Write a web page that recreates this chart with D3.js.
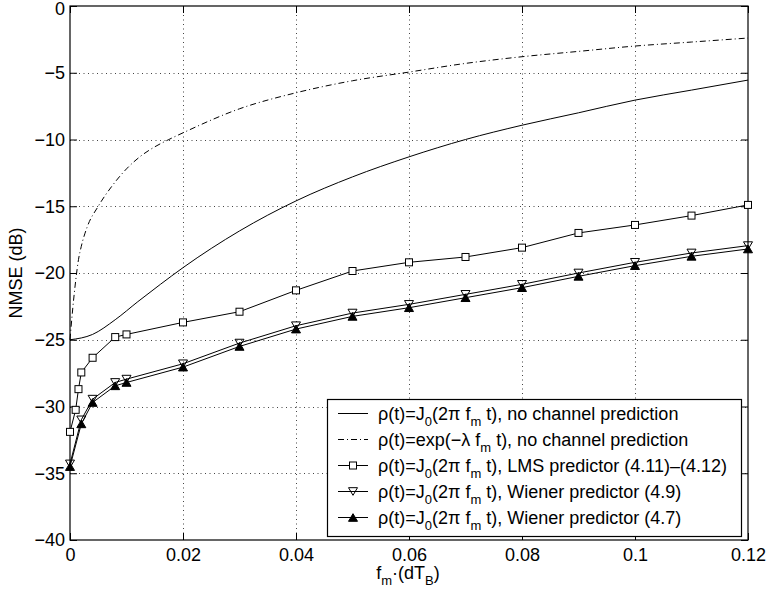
<!DOCTYPE html>
<html>
<head>
<meta charset="utf-8">
<script src="https://cdn.jsdelivr.net/npm/d3@7"></script>
<style>
  html, body { margin: 0; padding: 0; background: #fff; }
  svg { display: block; font-family: "Liberation Sans", Arial, Helvetica, sans-serif; }
</style>
</head>
<body>
<svg id="chart" width="768" height="596"></svg>
<script>
// ---- data ----
const xTicks = [0, 0.02, 0.04, 0.06, 0.08, 0.1, 0.12];
const xTickLabels = ["0", "0.02", "0.04", "0.06", "0.08", "0.1", "0.12"];
const yTicks = [0, -5, -10, -15, -20, -25, -30, -35, -40];
const yTickLabels = ["0", "\u22125", "\u221210", "\u221215", "\u221220", "\u221225", "\u221230", "\u221235", "\u221240"];

// J0 correlation, no channel prediction (solid)
const j0X = [0, 0.004, 0.008, 0.012, 0.016, 0.02, 0.03, 0.04, 0.05, 0.06, 0.07, 0.08, 0.09, 0.1, 0.11, 0.12];
const j0Y = [-25.0, -24.6, -23.5, -22.15, -20.85, -19.6, -16.85, -14.6, -12.8, -11.3, -10.0, -8.93, -8.0, -7.05, -6.3, -5.55];

// exp correlation, no channel prediction (dash-dot)
const expX = [0, 0.0005, 0.001, 0.0015, 0.002, 0.003, 0.005, 0.0075, 0.01, 0.0125, 0.015, 0.0175, 0.02, 0.03, 0.04, 0.05, 0.06, 0.07, 0.08, 0.09, 0.1, 0.11, 0.12];
const expY = [-25.0, -22.6, -20.6, -19.0, -18.0, -16.6, -15.0, -13.45, -12.2, -11.25, -10.55, -10.0, -9.5, -7.7, -6.5, -5.6, -4.95, -4.3, -3.8, -3.4, -3.0, -2.7, -2.4];

// LMS predictor (squares)
const lmsX = [0, 0.001, 0.0015, 0.002, 0.004, 0.008, 0.01, 0.02, 0.03, 0.04, 0.05, 0.06, 0.07, 0.08, 0.09, 0.1, 0.11, 0.12];
const lmsY = [-31.9, -30.25, -28.7, -27.45, -26.35, -24.8, -24.6, -23.7, -22.9, -21.3, -19.85, -19.2, -18.8, -18.1, -17.0, -16.4, -15.7, -14.9];

// Wiener predictors
const wienerX = [0, 0.002, 0.004, 0.008, 0.01, 0.02, 0.03, 0.04, 0.05, 0.06, 0.07, 0.08, 0.09, 0.1, 0.11, 0.12];
const wiener49Y = [-34.3, -31.0, -29.45, -28.2, -27.95, -26.8, -25.25, -23.95, -23.0, -22.35, -21.6, -20.85, -20.0, -19.2, -18.5, -17.95];
const wiener47Y = [-34.5, -31.3, -29.7, -28.45, -28.2, -27.05, -25.5, -24.2, -23.25, -22.6, -21.85, -21.1, -20.25, -19.45, -18.75, -18.2];

const legendEntries = [
  { pre: "\u03c1(t)=J", sub1: "0", mid: "(2\u03c0 f", sub2: "m", post: " t), no channel prediction", kind: "solid" },
  { pre: "\u03c1(t)=exp(\u2212\u03bb f", sub1: null, mid: "", sub2: "m", post: " t), no channel prediction", kind: "dashdot" },
  { pre: "\u03c1(t)=J", sub1: "0", mid: "(2\u03c0 f", sub2: "m", post: " t), LMS predictor (4.11)\u2013(4.12)", kind: "square" },
  { pre: "\u03c1(t)=J", sub1: "0", mid: "(2\u03c0 f", sub2: "m", post: " t), Wiener predictor (4.9)", kind: "down" },
  { pre: "\u03c1(t)=J", sub1: "0", mid: "(2\u03c0 f", sub2: "m", post: " t), Wiener predictor (4.7)", kind: "up" }
];

// ---- layout ----
const L = 70, R = 748, T = 6, B = 540;
const fs = 18, sfs = 13;
const svg = d3.select("#chart");
svg.append("rect").attr("width", 768).attr("height", 596).attr("fill", "#fff");

const x = d3.scaleLinear().domain([0, 0.12]).range([L, R]);
const y = d3.scaleLinear().domain([-40, 0]).range([B, T]);

// grid
const grid = svg.append("g").attr("stroke", "#444").attr("stroke-width", 1).attr("stroke-dasharray", "1,3.5");
grid.selectAll("line.gx").data(xTicks.slice(1, -1)).enter().append("line")
  .attr("x1", d => Math.round(x(d)) + 0.5).attr("x2", d => Math.round(x(d)) + 0.5)
  .attr("y1", T).attr("y2", B);
grid.selectAll("line.gy").data(yTicks.slice(1, -1)).enter().append("line")
  .attr("y1", d => Math.round(y(d)) + 0.5).attr("y2", d => Math.round(y(d)) + 0.5)
  .attr("x1", L).attr("x2", R);

// axes
const xAxis = d3.axisBottom(x).tickValues(xTicks).tickSizeInner(-7).tickSizeOuter(0).tickPadding(8)
  .tickFormat((d, i) => xTickLabels[i]);
const yAxis = d3.axisLeft(y).tickValues(yTicks).tickSizeInner(-7).tickSizeOuter(0).tickPadding(5)
  .tickFormat((d, i) => yTickLabels[i]);
const xTop = d3.axisTop(x).tickValues(xTicks).tickSizeInner(-7).tickSizeOuter(0).tickFormat("");
const yRight = d3.axisRight(y).tickValues(yTicks).tickSizeInner(-7).tickSizeOuter(0).tickFormat("");

function styleAxis(g) {
  g.selectAll("path").remove();
  g.selectAll("line").attr("stroke", "#000");
  g.selectAll("text").attr("fill", "#000").style("font-size", fs + "px").style("font-family", "Liberation Sans, Arial, sans-serif");
}
svg.append("g").attr("transform", `translate(0,${B})`).call(xAxis).call(styleAxis);
const yg = svg.append("g").attr("transform", `translate(${L},0)`).call(yAxis).call(styleAxis);
// keep the top "0" label inside the picture
yg.selectAll(".tick text").filter(d => d === 0).attr("dy", "0.75em").attr("y", -5);

svg.append("g").attr("transform", `translate(0,${T})`).call(xTop).call(styleAxis);
svg.append("g").attr("transform", `translate(${R},0)`).call(yRight).call(styleAxis);

// box
svg.append("rect").attr("x", L).attr("y", T).attr("width", R - L).attr("height", B - T)
  .attr("fill", "none").attr("stroke", "#000").attr("stroke-width", 1.2);

// lines
const line = d3.line().x(d => x(d[0])).y(d => y(d[1]));
const smooth = d3.line().x(d => x(d[0])).y(d => y(d[1])).curve(d3.curveMonotoneX);
function drawLine(xs, ys, gen, dash) {
  svg.append("path").datum(d3.zip(xs, ys)).attr("d", gen)
    .attr("fill", "none").attr("stroke", "#000").attr("stroke-width", 1)
    .attr("stroke-dasharray", dash || null);
}
drawLine(j0X, j0Y, smooth);
drawLine(expX, expY, smooth, "6,3,1,3");
drawLine(lmsX, lmsY, line);
drawLine(wienerX, wiener49Y, line);
drawLine(wienerX, wiener47Y, line);

// markers
const sq = 7, tr = 9;
function marker(g, kind, cx, cy) {
  if (kind === "square") {
    g.append("rect").attr("x", cx - sq / 2).attr("y", cy - sq / 2).attr("width", sq).attr("height", sq)
      .attr("fill", "#fff").attr("stroke", "#000").attr("stroke-width", 1);
  } else if (kind === "down") {
    const h = tr * 0.85;
    g.append("path").attr("d", `M${cx - tr / 2},${cy - h / 2}L${cx + tr / 2},${cy - h / 2}L${cx},${cy + h / 2}Z`)
      .attr("fill", "none").attr("stroke", "#000").attr("stroke-width", 1);
  } else if (kind === "up") {
    const h = tr * 0.85;
    g.append("path").attr("d", `M${cx - tr / 2},${cy + h / 2}L${cx + tr / 2},${cy + h / 2}L${cx},${cy - h / 2}Z`)
      .attr("fill", "#000").attr("stroke", "#000").attr("stroke-width", 1);
  }
}
const mg = svg.append("g");
d3.zip(lmsX, lmsY).forEach(d => marker(mg, "square", x(d[0]), y(d[1])));
d3.zip(wienerX, wiener49Y).forEach(d => marker(mg, "down", x(d[0]), y(d[1])));
d3.zip(wienerX, wiener47Y).forEach(d => marker(mg, "up", x(d[0]), y(d[1])));

// axis labels
const xl = svg.append("text").attr("x", 408).attr("y", 579).attr("text-anchor", "middle")
  .style("font-size", fs + "px").attr("fill", "#000");
xl.append("tspan").text("f");
xl.append("tspan").text("m").style("font-size", sfs + "px").attr("dy", 6);
xl.append("tspan").text("\u00b7(dT").attr("dy", -6);
xl.append("tspan").text("B").style("font-size", sfs + "px").attr("dy", 6);
xl.append("tspan").text(")").attr("dy", -6);

svg.append("text").attr("transform", `translate(22,${(T + B) / 2}) rotate(-90)`)
  .attr("text-anchor", "middle").style("font-size", fs + "px").attr("fill", "#000").text("NMSE (dB)");

// legend
const lg = svg.append("g");
lg.append("rect").attr("x", 327.5).attr("y", 399.5).attr("width", 414).attr("height", 137)
  .attr("fill", "#fff").attr("stroke", "#000").attr("stroke-width", 1.2);
legendEntries.forEach((e, i) => {
  const ly = 413.5 + i * 26;
  lg.append("line").attr("x1", 338).attr("x2", 368).attr("y1", ly).attr("y2", ly)
    .attr("stroke", "#000").attr("stroke-width", 1)
    .attr("stroke-dasharray", e.kind === "dashdot" ? "6,3,1,3" : null);
  marker(lg, e.kind, 353, ly);
  const t = lg.append("text").attr("x", 378).attr("y", ly + 6).style("font-size", fs + "px").attr("fill", "#000");
  t.append("tspan").text(e.pre);
  if (e.sub1) {
    t.append("tspan").text(e.sub1).style("font-size", sfs + "px").attr("dy", 6);
    t.append("tspan").text(e.mid).attr("dy", -6);
  }
  t.append("tspan").text(e.sub2).style("font-size", sfs + "px").attr("dy", 6);
  t.append("tspan").text(e.post).attr("dy", -6);
});
</script>
</body>
</html>
